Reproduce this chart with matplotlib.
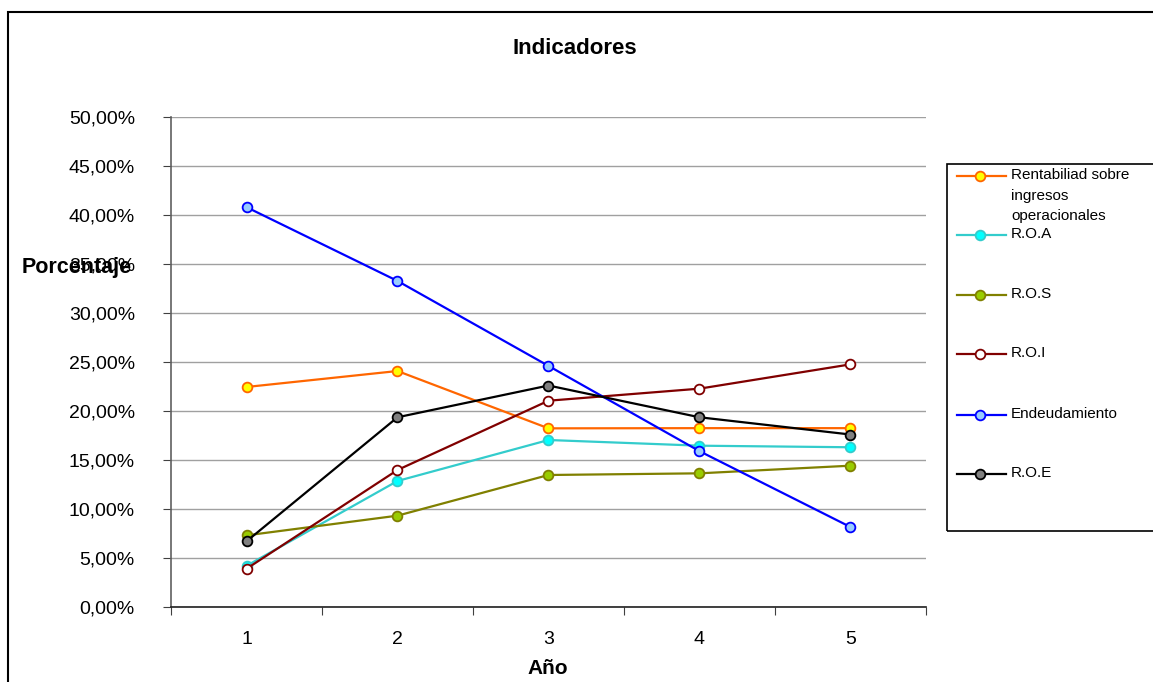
import matplotlib
matplotlib.use("Agg")
import matplotlib.pyplot as plt
from matplotlib.patches import Rectangle
from matplotlib.lines import Line2D

plt.rcParams['font.family'] = ['Liberation Sans', 'DejaVu Sans']

years = [1, 2, 3, 4, 5]
year_labels = ["1", "2", "3", "4", "5"]
rentabilidad = [22.45, 24.08, 18.23, 18.25, 18.25]
roa = [4.2, 12.86, 17.04, 16.46, 16.3]
ros = [7.31, 9.32, 13.47, 13.64, 14.42]
roi = [3.9, 13.98, 21.05, 22.28, 24.76]
endeudamiento = [40.8, 33.27, 24.6, 15.9, 8.16]
roe = [6.7, 19.36, 22.6, 19.36, 17.6]

series_labels = ["Rentabiliad sobre\ningresos\noperacionales", "R.O.A", "R.O.S",
                 "R.O.I", "Endeudamiento", "R.O.E"]
series_values = [rentabilidad, roa, ros, roi, endeudamiento, roe]
line_colors = ["#FF6600", "#33CCCC", "#808000", "#800000", "#0000FF", "#000000"]
face_colors = ["#FFFF00", "#00FFFF", "#99CC00", "#FFFFFF", "#99CCFF", "#808080"]
edge_colors = ["#FF6600", "#33CCCC", "#808000", "#800000", "#0000FF", "#000000"]
y_ticks = [0, 5, 10, 15, 20, 25, 30, 35, 40, 45, 50]
y_tick_labels = ["0,00%", "5,00%", "10,00%", "15,00%", "20,00%", "25,00%",
                 "30,00%", "35,00%", "40,00%", "45,00%", "50,00%"]

W, H = 1153, 682
fig = plt.figure(figsize=(W / 100, H / 100), dpi=100)
fig.patch.set_facecolor("white")

# outer chart frame
fig.patches.append(Rectangle((8 / W, -0.05), 1.2, 1 - 12 / H + 0.05,
                             transform=fig.transFigure, fill=False,
                             edgecolor="black", linewidth=1.5))

ax = fig.add_axes([171 / W, (H - 607) / H, 755 / W, 490 / H])
ax.set_facecolor("none")

for vals, lc, fc, ec in zip(series_values, line_colors, face_colors, edge_colors):
    ax.plot(years, vals, color=lc, lw=1.6, marker="o", markersize=7,
            markerfacecolor=fc, markeredgecolor=ec, markeredgewidth=1.3, zorder=3)

ax.set_xlim(0.5, 5.5)
ax.set_ylim(0, 50)
ax.set_yticks(y_ticks)
ax.set_yticklabels(y_tick_labels, fontsize=14)
ax.yaxis.grid(True, color="#A0A0A0", lw=1)
ax.set_axisbelow(True)

ax.set_xticks([0.5, 1.5, 2.5, 3.5, 4.5, 5.5])
ax.set_xticklabels([])
ax.set_xticks(years, minor=True)
ax.set_xticklabels(year_labels, minor=True, fontsize=14)
ax.tick_params(axis="x", which="major", direction="out", length=6, color="#404040")
ax.tick_params(axis="x", which="minor", length=0, pad=17)
ax.tick_params(axis="y", direction="out", length=6, color="#404040", pad=20)

for s in ["top", "right"]:
    ax.spines[s].set_visible(False)
ax.spines["left"].set_color("#606060")
ax.spines["bottom"].set_color("#202020")
ax.spines["left"].set_linewidth(1.2)
ax.spines["bottom"].set_linewidth(1.2)

fig.text(575 / W, 1 - 48 / H, "Indicadores", ha="center", va="center",
         fontsize=16, fontweight="bold")
fig.text(22 / W, 1 - 268 / H, "Porcentaje", ha="left", va="center",
         fontsize=15.5, fontweight="bold")
fig.text(548 / W, 1 - 669 / H, "Año", ha="center", va="center",
         fontsize=15, fontweight="bold")

# legend box
fig.patches.append(Rectangle((947 / W, 1 - 531 / H), 210 / W, (531 - 164) / H,
                             transform=fig.transFigure, fill=False,
                             edgecolor="black", linewidth=1.2))
entry_y = [176, 235, 295, 354, 415, 474]
for lab, lc, fc, ec, yy in zip(series_labels, line_colors, face_colors, edge_colors, entry_y):
    yf = 1 - yy / H
    fig.add_artist(Line2D([957 / W, 1006 / W], [yf, yf], transform=fig.transFigure,
                          color=lc, lw=1.6))
    fig.add_artist(Line2D([980 / W], [yf], transform=fig.transFigure, marker="o",
                          markersize=7, markerfacecolor=fc, markeredgecolor=ec,
                          markeredgewidth=1.3, color=lc))
    fig.text(1011 / W, yf + 8 / H, lab, ha="left", va="top", fontsize=11,
             linespacing=1.6)

fig.savefig("out.png", dpi=100)
